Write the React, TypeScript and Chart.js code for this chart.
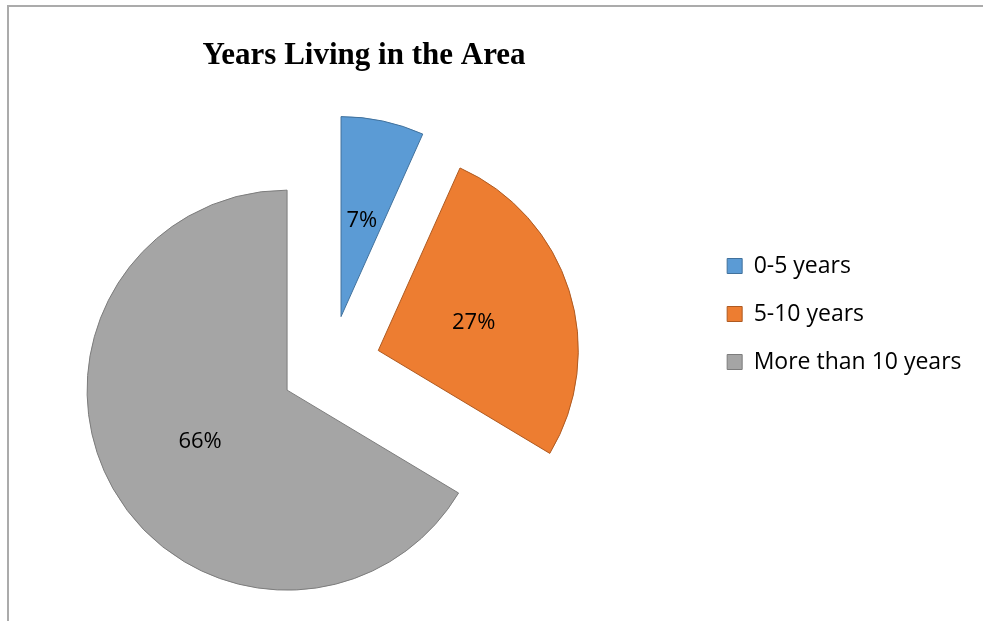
import React, { useEffect, useRef } from 'react';
import { Chart, registerables } from 'chart.js';

Chart.register(...registerables);

// ---- data ----
const categories = ['0-5 years', '5-10 years', 'More than 10 years'];
const shares = [6.7, 26.9, 66.4];
const sliceColors = ['#5B9BD5', '#ED7D31', '#A5A5A5'];
const sliceBorders = ['#41719C', '#AE5A21', '#7C7C7C'];
const chartTitle = 'Years Living in the Area';

// ---- styling / layout ----
const EXPLODE = 50;
const PIE_RADIUS = 200;
const CANVAS_SHIFT = 41; // canvas starts this many px left of the page edge
const TITLE_CENTER_X = 364 + CANVAS_SHIFT; // canvas coords

const explodedPiePlugin = {
  id: 'explodedPie',
  afterLayout(chart: any) {
    const t = chart.titleBlock;
    if (t) {
      const w = t.right - t.left;
      t.left = TITLE_CENTER_X - w / 2;
      t.right = TITLE_CENTER_X + w / 2;
    }
  },
  beforeDatasetsDraw(chart: any) {
    const ctx = chart.ctx;
    const meta = chart.getDatasetMeta(0);
    const total = shares.reduce((a, b) => a + b, 0);
    meta.data.forEach((arc: any) => {
      const { startAngle, endAngle } = arc.getProps(['startAngle', 'endAngle'], true);
      const mid = (startAngle + endAngle) / 2;
      ctx.save();
      ctx.translate(Math.cos(mid) * EXPLODE, Math.sin(mid) * EXPLODE);
      arc.draw(ctx);
      ctx.restore();
    });
    ctx.save();
    ctx.font = '22px "Open Sans"';
    ctx.fillStyle = '#000';
    ctx.textAlign = 'center';
    ctx.textBaseline = 'middle';
    meta.data.forEach((arc: any, i: number) => {
      const { x, y, startAngle, endAngle, outerRadius } = arc.getProps(
        ['x', 'y', 'startAngle', 'endAngle', 'outerRadius'],
        true
      );
      const mid = (startAngle + endAngle) / 2;
      const d = EXPLODE + outerRadius / 2;
      const pct = Math.round((shares[i] / total) * 100) + '%';
      ctx.fillText(pct, x + Math.cos(mid) * d, y + Math.sin(mid) * d + 2);
    });
    ctx.restore();
    return false;
  },
};

export default function App() {
  const ref = useRef<HTMLCanvasElement>(null);

  useEffect(() => {
    const chart = new Chart(ref.current as HTMLCanvasElement, {
      type: 'pie',
      data: {
        labels: categories,
        datasets: [
          {
            data: shares,
            backgroundColor: sliceColors,
            borderColor: sliceBorders,
            borderWidth: 1,
            offset: 0,
          } as any,
        ],
      },
      options: {
        responsive: true,
        maintainAspectRatio: false,
        animation: false,
        events: [],
        radius: PIE_RADIUS,
        layout: { autoPadding: false, padding: { left: 0, right: 11.5, top: 7, bottom: 0 } },
        plugins: {
          title: {
            display: true,
            text: chartTitle,
            color: '#000',
            font: { family: 'Liberation Serif', size: 31, weight: 'bold' },
            padding: { top: 30, bottom: 35.8 },
          },
          legend: {
            position: 'right',
            align: 'center',
            labels: {
              boxWidth: 15,
              boxHeight: 15,
              padding: 25,
              color: '#000',
              font: { family: 'Open Sans', size: 23 },
            },
          },
          tooltip: { enabled: false },
        },
      } as any,
      plugins: [explodedPiePlugin],
    });
    return () => chart.destroy();
  }, []);

  return (
    <div
      style={{
        position: 'absolute',
        left: 0,
        top: 0,
        width: 983,
        height: 621,
        background: '#fff',
        overflow: 'hidden',
      }}
    >
      <div
        style={{
          position: 'absolute',
          left: 7,
          top: 5,
          right: 0,
          bottom: 0,
          borderLeft: '2px solid #ababab',
          borderTop: '2px solid #ababab',
        }}
      />
      <div
        style={{
          position: 'absolute',
          left: -CANVAS_SHIFT,
          top: 0,
          width: 983 + CANVAS_SHIFT,
          height: 621,
        }}
      >
        <canvas ref={ref} />
      </div>
    </div>
  );
}
